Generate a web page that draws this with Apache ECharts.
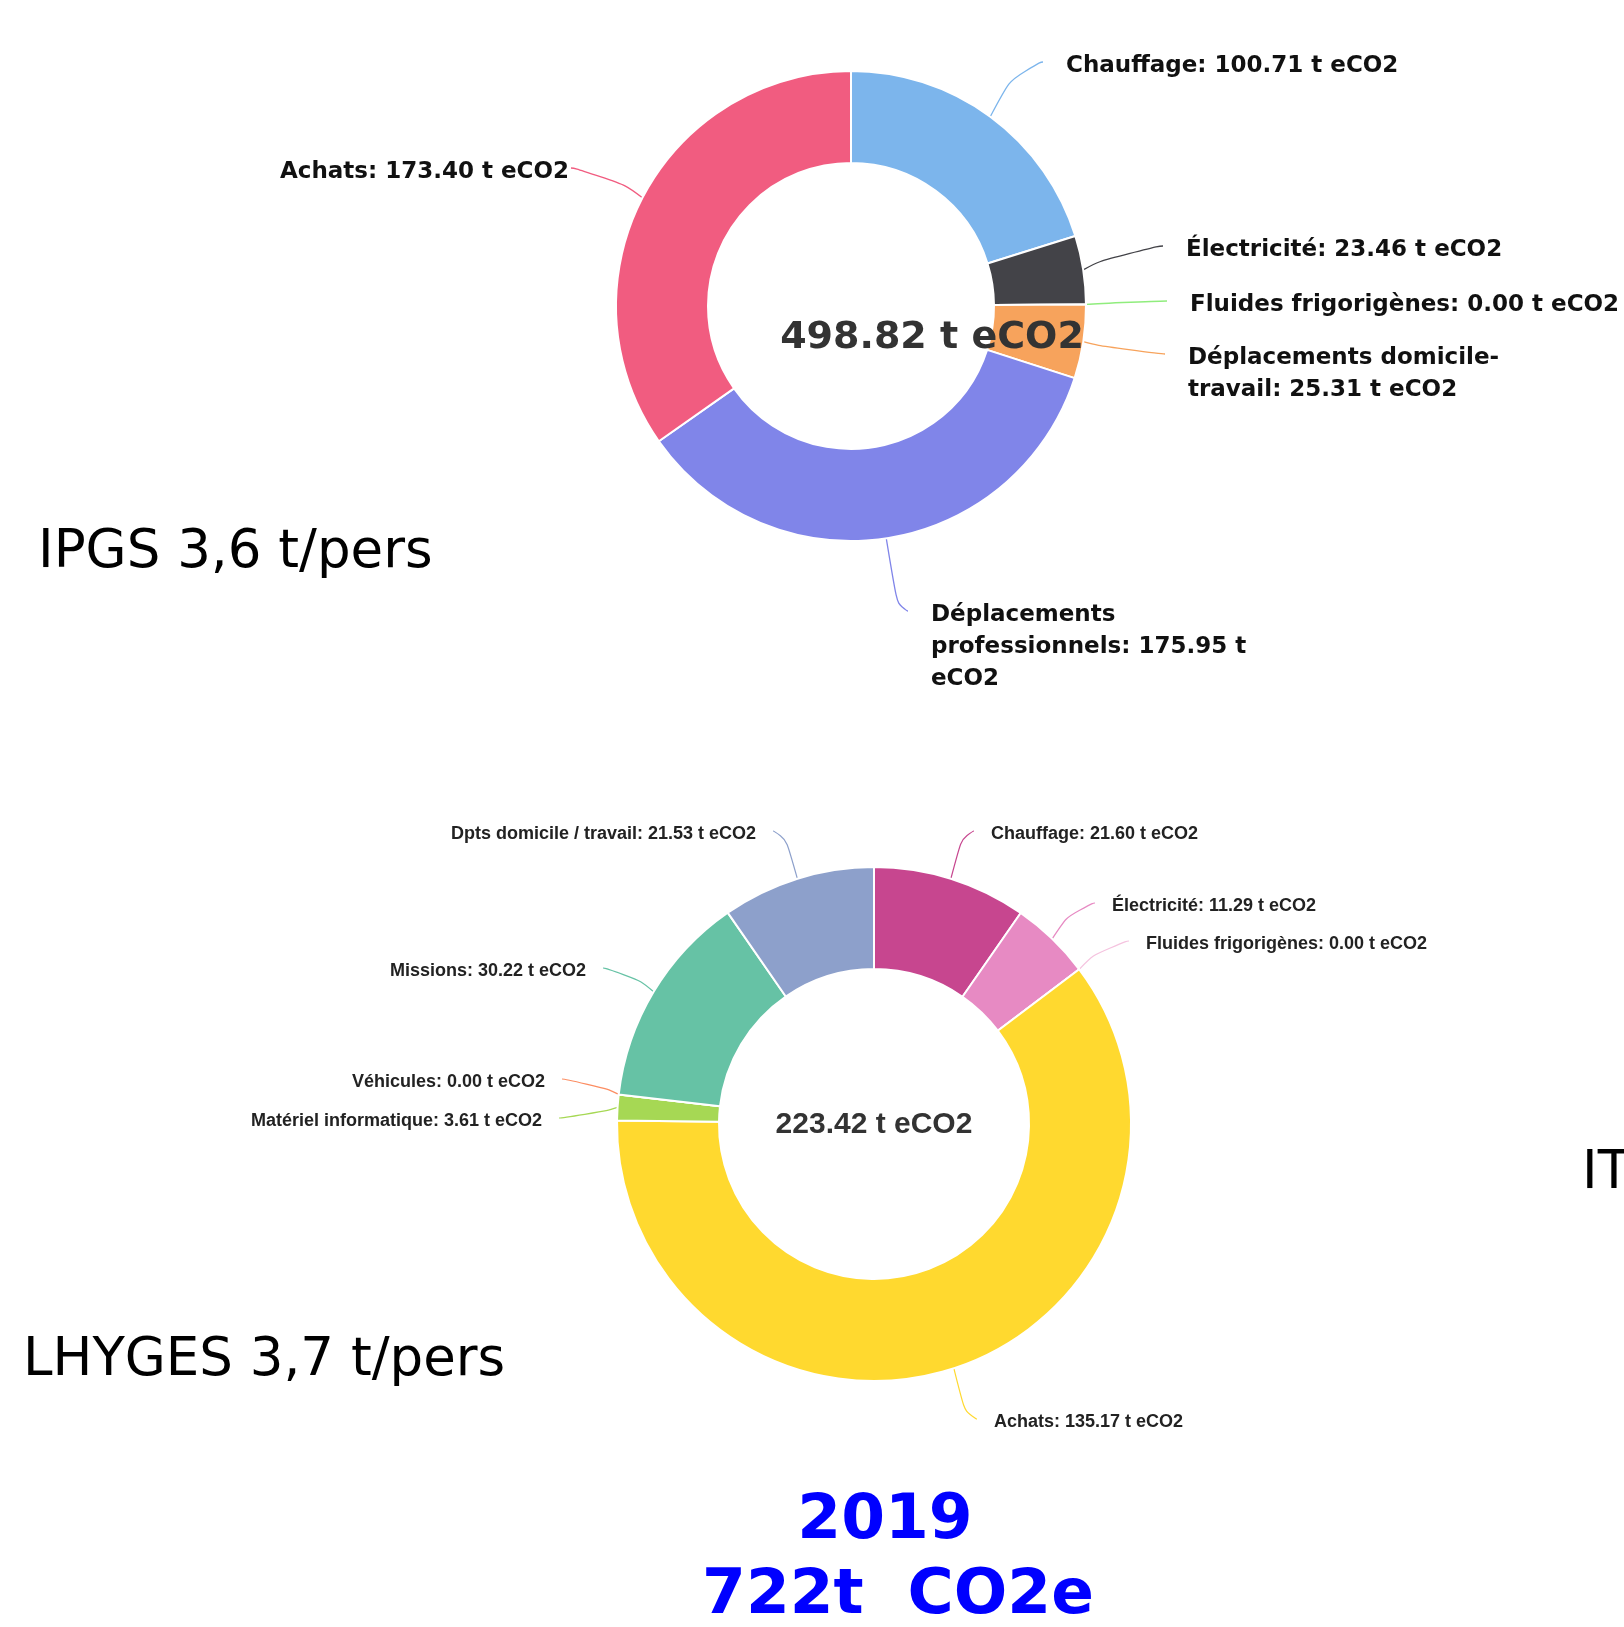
<!DOCTYPE html>
<html><head><meta charset="utf-8">
<script src="https://cdn.jsdelivr.net/npm/echarts@6/dist/echarts.min.js"></script>
<style>html,body{margin:0;padding:0;background:#fff}#c{width:1624px;height:1627px}</style>
</head><body><div id="c"></div>
<script>
// ---- data ----
const ipgsCategories = ['Chauffage', 'Électricité', 'Fluides frigorigènes', 'Déplacements domicile-travail', 'Déplacements professionnels', 'Achats'];
const ipgsValues = [100.71, 23.46, 0.00, 25.31, 175.95, 173.40];
const ipgsTotal = 498.82;
const lhygesCategories = ['Chauffage', 'Électricité', 'Fluides frigorigènes', 'Achats', 'Matériel informatique', 'Véhicules', 'Missions', 'Dpts domicile / travail'];
const lhygesValues = [21.60, 11.29, 0.00, 135.17, 3.61, 0.00, 30.22, 21.53];
const lhygesTotal = 223.42;
const unit = ' t eCO2';
const ipgsCaption = 'IPGS 3,6 t/pers';
const lhygesCaption = 'LHYGES 3,7 t/pers';
const thirdCaption = 'IT';
const yearText = '2019';
const overallText = '722t  CO2e';

// ---- styles ----
const ipgsColors = ['#7cb5ec', '#434348', '#90ed7d', '#f7a35c', '#8085e9', '#f15c80'];
const lhygesColors = ['#c7468f', '#e78ac3', '#f5c3df', '#ffd92f', '#a6d854', '#fc8d62', '#66c2a5', '#8da0cb'];
// label anchor positions (text edge x, text middle y, side)
const ipgsLabelPos = [[1066, 66, 'left'], [1186, 250, 'left'], [1190, 305, 'left'], [1188, 374, 'left'], [931, 647, 'left'], [569, 172, 'right']];
const lhygesLabelPos = [[991, 834, 'left'], [1112, 906, 'left'], [1146, 944, 'left'], [994, 1422, 'left'], [542, 1121, 'right'], [545, 1082, 'right'], [586, 971, 'right'], [756, 834, 'right']];

function ipgsLabel(p) {
  let txt = p.name + ': ' + p.value.toFixed(2) + unit;
  if (p.dataIndex === 3) txt = txt.replace('domicile-', 'domicile-\n');
  if (p.dataIndex === 4) txt = txt.replace('Déplacements ', 'Déplacements\n').replace(' t eCO2', ' t\neCO2');
  return txt;
}
function lhygesLabel(p) { return p.name + ': ' + p.value.toFixed(2) + unit; }

// place labels, and draw the connector from the library's own anchor on the slice edge
function makeLayout(pos, gapFn, lineH, yOff) {
  return function (p) {
    const q = pos[p.dataIndex];
    const alignRight = q[2] === 'right';
    const out = { x: q[0], y: q[1], align: q[2], verticalAlign: 'middle' };
    const a = p.labelLinePoints && p.labelLinePoints[0];
    if (a) {
      const gap = gapFn(p.dataIndex);
      const n = String(p.text || '').split('\n').length;
      const endY = q[1] - (n - 1) * lineH / 2 + yOff;
      const endX = alignRight ? q[0] + gap : q[0] - gap;
      const dir = alignRight ? 1 : -1;
      const k = Math.max(6, Math.abs(endX - a[0]) * 0.45);
      out.labelLinePoints = [[a[0], a[1]], [endX + dir * k, endY], [endX, endY]];
    }
    return out;
  };
}
const ipgsGap = i => (ipgsLabelPos[i][2] === 'right' ? 2 : 23);
const lhygesGap = i => 17;

function buildData(cats, vals, colors) {
  return cats.map((c, i) => ({ name: c, value: vals[i], itemStyle: { color: colors[i] } }));
}

const chart = echarts.init(document.getElementById('c'), null, { renderer: 'canvas', width: 1624, height: 1627 });
chart.setOption({
  animation: false,
  backgroundColor: '#ffffff',
  series: [
    {
      type: 'pie',
      center: [851, 306],
      radius: [143, 235],
      startAngle: 90,
      clockwise: true,
      avoidLabelOverlap: false,
      emphasis: { disabled: true },
      itemStyle: { borderColor: '#ffffff', borderWidth: 2 },
      label: {
        show: true, position: 'outside', overflow: 'none',
        formatter: ipgsLabel,
        fontFamily: 'DejaVu Sans', fontWeight: 'bold', fontSize: 23, lineHeight: 32, color: '#111111'
      },
      labelLine: { show: true, length: 12, length2: 8, smooth: 0.9, lineStyle: { width: 1.3 } },
      labelLayout: makeLayout(ipgsLabelPos, ipgsGap, 32, -4),
      data: buildData(ipgsCategories, ipgsValues, ipgsColors)
    },
    {
      type: 'pie',
      center: [874, 1124],
      radius: [155, 257],
      startAngle: 90,
      clockwise: true,
      avoidLabelOverlap: false,
      emphasis: { disabled: true },
      itemStyle: { borderColor: '#ffffff', borderWidth: 2 },
      label: {
        show: true, position: 'outside', overflow: 'none',
        formatter: lhygesLabel,
        fontFamily: 'Liberation Sans', fontWeight: 'bold', fontSize: 18, color: '#222222'
      },
      labelLine: { show: true, length: 10, length2: 5, smooth: 0.9, lineStyle: { width: 1.2 } },
      labelLayout: makeLayout(lhygesLabelPos, lhygesGap, 20, -3),
      data: buildData(lhygesCategories, lhygesValues, lhygesColors)
    }
  ],
  graphic: [
    { type: 'text', z: 100, x: 932, y: 338, style: { text: ipgsTotal.toFixed(2) + unit, fontFamily: 'DejaVu Sans', fontWeight: 'bold', fontSize: 38, fill: '#333333', align: 'center', verticalAlign: 'middle', textAlign: 'center', textVerticalAlign: 'middle' } },
    { type: 'text', z: 100, x: 874, y: 1125, style: { text: lhygesTotal.toFixed(2) + unit, fontFamily: 'Liberation Sans', fontWeight: 'bold', fontSize: 30, fill: '#333333', align: 'center', verticalAlign: 'middle', textAlign: 'center', textVerticalAlign: 'middle' } },
    { type: 'text', z: 100, x: 38, y: 553, style: { text: ipgsCaption, fontFamily: 'DejaVu Sans', fontSize: 53, fill: '#000000', align: 'left', verticalAlign: 'middle', textAlign: 'left', textVerticalAlign: 'middle' } },
    { type: 'text', z: 100, x: 23, y: 1361, style: { text: lhygesCaption, fontFamily: 'DejaVu Sans', fontSize: 53, fill: '#000000', align: 'left', verticalAlign: 'middle', textAlign: 'left', textVerticalAlign: 'middle' } },
    { type: 'text', z: 100, x: 1582, y: 1174, style: { text: thirdCaption, fontFamily: 'DejaVu Sans', fontSize: 53, fill: '#000000', align: 'left', verticalAlign: 'middle', textAlign: 'left', textVerticalAlign: 'middle' } },
    { type: 'text', z: 100, x: 885, y: 1522, style: { text: yearText, fontFamily: 'DejaVu Sans', fontWeight: 'bold', fontSize: 63, fill: '#0000ff', align: 'center', verticalAlign: 'middle', textAlign: 'center', textVerticalAlign: 'middle' } },
    { type: 'text', z: 100, x: 898, y: 1597, style: { text: overallText, fontFamily: 'DejaVu Sans', fontWeight: 'bold', fontSize: 63, fill: '#0000ff', align: 'center', verticalAlign: 'middle', textAlign: 'center', textVerticalAlign: 'middle' } }
  ]
});
</script>
</body></html>
